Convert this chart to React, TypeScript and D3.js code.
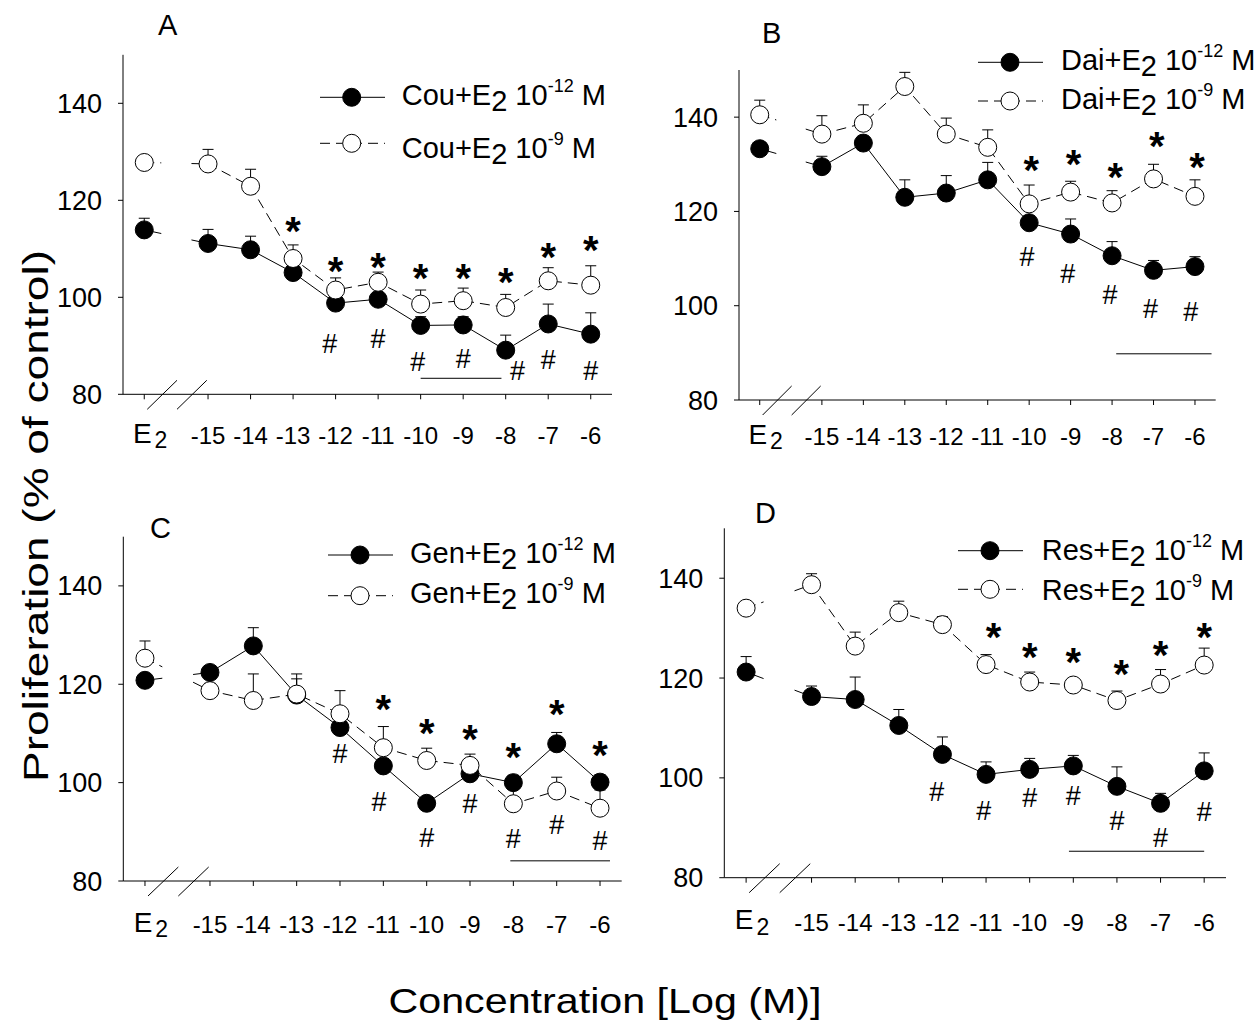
import React from "react";
import * as d3 from "d3";

// ---------- shared axis data ----------
const xLabels = ["E2", "-15", "-14", "-13", "-12", "-11", "-10", "-9", "-8", "-7", "-6"];
const xValues = [-16.5, -15, -14, -13, -12, -11, -10, -9, -8, -7, -6];
const yTicks = [80, 100, 120, 140];
const xDomain: [number, number] = [-17, -5.5];
const yDomain: [number, number] = [80, 150];
const gapStart = -16.1;
const gapEnd = -15.39;

// ---------- Panel A: Coumestrol ----------
const couLow = [113.9, 111.1, 109.8, 105.1, 98.8, 99.6, 94.2, 94.3, 89.1, 94.5, 92.4];
const couLowErr = [2.4, 2.9, 2.8, 1.5, 1.2, 1.4, 1.8, 1.7, 3.1, 4.1, 4.4];
const couHigh = [127.8, 127.5, 122.9, 108.0, 101.5, 103.1, 98.6, 99.3, 97.9, 103.4, 102.5];
const couHighErr = [0.4, 3.0, 3.5, 2.8, 2.5, 2.1, 2.9, 2.6, 2.7, 2.7, 4.0];
const couStarX = [-13, -12, -11, -10, -9, -8, -7, -6];
const couStarY = [115.3, 107.0, 107.8, 105.6, 105.6, 104.8, 109.9, 111.3];
const couHashX = [-12.14, -11, -10.07, -9, -7.72, -7, -6];
const couHashY = [90.5, 91.6, 86.8, 87.3, 84.9, 87.1, 84.9];
const couBar = [-10, -8.1, 83.3];

// ---------- Panel B: Daidzein ----------
const daiLow = [133.3, 129.5, 134.5, 123.0, 123.9, 126.7, 117.6, 115.2, 110.6, 107.5, 108.3];
const daiLowErr = [0.5, 2.2, 1.5, 3.7, 3.7, 3.7, 1.5, 3.2, 3.0, 2.1, 2.1];
const daiHigh = [140.5, 136.4, 138.7, 146.5, 136.4, 133.6, 121.6, 124.1, 121.8, 126.9, 123.2];
const daiHighErr = [3.1, 3.9, 3.9, 3.0, 3.4, 3.7, 4.0, 2.3, 2.6, 3.1, 3.5];
const daiStarX = [-9.95, -8.93, -7.92, -6.92, -5.95];
const daiStarY = [130.4, 131.7, 129.0, 135.6, 131.1];
const daiHashX = [-10.05, -9.07, -8.05, -7.07, -6.1];
const daiHashY = [110.4, 106.9, 102.3, 99.5, 98.7];
const daiBar = [-7.9, -5.6, 89.8];

// ---------- Panel C: Genistein ----------
const genLow = [120.8, 122.4, 127.8, 117.8, 111.2, 103.4, 95.8, 101.8, 100.0, 107.9, 100.1];
const genLowErr = [0.5, 1.0, 3.7, 4.3, 1.5, 1.5, 0.5, 1.0, 1.5, 2.3, 1.5];
const genHigh = [125.3, 118.7, 116.7, 118.0, 114.0, 107.1, 104.5, 103.5, 95.7, 98.3, 94.8];
const genHighErr = [3.5, 1.5, 5.4, 3.1, 4.7, 4.3, 2.5, 2.3, 3.0, 2.8, 3.7];
const genStarX = [-11, -10, -9, -8, -7, -6];
const genStarY = [116.5, 111.7, 110.4, 106.8, 115.5, 107.3];
const genHashX = [-12, -11.1, -10, -9, -8, -7, -6];
const genHashY = [106.0, 96.1, 88.8, 95.7, 88.7, 91.5, 88.2];
const genBar = [-8.07, -5.77, 84.1];

// ---------- Panel D: Resveratrol ----------
const resLow = [121.2, 116.3, 115.7, 110.5, 104.7, 100.7, 101.7, 102.4, 98.3, 94.9, 101.4];
const resLowErr = [3.1, 2.1, 4.5, 3.2, 3.5, 2.5, 2.2, 2.1, 3.9, 2.0, 3.6];
const resHigh = [134.0, 138.7, 126.4, 133.1, 130.7, 122.7, 119.2, 118.6, 115.5, 118.8, 122.6];
const resHighErr = [0.4, 2.2, 2.8, 2.3, 1.6, 2.0, 2.0, 0.4, 1.9, 2.9, 3.4];
const resStarX = [-10.83, -10, -9, -7.9, -7, -6];
const resStarY = [129.8, 125.8, 124.9, 122.5, 126.2, 129.8];
const resHashX = [-12.13, -11.05, -10, -9, -8, -7, -6];
const resHashY = [97.2, 93.5, 96.0, 96.5, 91.5, 88.0, 93.2];
const resBar = [-9.1, -6.0, 85.3];

const compoundNames = ["Cou", "Dai", "Gen", "Res"];
const panelLetters = ["A", "B", "C", "D"];
const lowSup = "-12";
const highSup = "-9";

// ---------- layout ----------
const FONT = "'Liberation Sans', Arial, Helvetica, sans-serif";
const layouts = [
  { x0: 123, x1: 612, yb: 394.3, yt: 54.8, tickBase: 50, letter: [158, 35], lg: { mx: 351.7, lx0: 320, lx1: 385, r1: 97.3, r2: 143.3, tx: 401.7, b1: 105, b2: 158 } },
  { x0: 739, x1: 1215.7, yb: 400, yt: 70, tickBase: 45, letter: [762, 43.3], lg: { mx: 1010, lx0: 978, lx1: 1043, r1: 62.3, r2: 101, tx: 1061, b1: 70, b2: 109 } },
  { x0: 123.3, x1: 621.7, yb: 881, yt: 536.7, tickBase: 52, letter: [150, 538], lg: { mx: 360, lx0: 328, lx1: 393, r1: 555, r2: 595.7, tx: 410, b1: 563.3, b2: 603.3 } },
  { x0: 724.3, x1: 1226, yb: 877.7, yt: 528.3, tickBase: 53, letter: [755, 523.3], lg: { mx: 990, lx0: 958, lx1: 1023, r1: 550.7, r2: 589.3, tx: 1041.7, b1: 560, b2: 600 } },
];

const panelData = [
  { low: couLow, lowErr: couLowErr, high: couHigh, highErr: couHighErr, sx: couStarX, sy: couStarY, hx: couHashX, hy: couHashY, bar: couBar },
  { low: daiLow, lowErr: daiLowErr, high: daiHigh, highErr: daiHighErr, sx: daiStarX, sy: daiStarY, hx: daiHashX, hy: daiHashY, bar: daiBar },
  { low: genLow, lowErr: genLowErr, high: genHigh, highErr: genHighErr, sx: genStarX, sy: genStarY, hx: genHashX, hy: genHashY, bar: genBar },
  { low: resLow, lowErr: resLowErr, high: resHigh, highErr: resHighErr, sx: resStarX, sy: resStarY, hx: resHashX, hy: resHashY, bar: resBar },
];

const R = 9;
const DASH = "10,6";

function Panel({ idx }: { idx: number }) {
  const cfg = layouts[idx];
  const d = panelData[idx];
  const x = d3.scaleLinear().domain(xDomain).range([cfg.x0, cfg.x1]);
  const y = d3.scaleLinear().domain(yDomain).range([cfg.yb, cfg.yt]);
  const line = d3
    .line<[number, number]>()
    .x((p) => x(p[0]))
    .y((p) => y(p[1]));

  const segs = (vals: number[]) => {
    const span = xValues[1] - xValues[0];
    const yA = vals[0] + ((gapStart - xValues[0]) / span) * (vals[1] - vals[0]);
    const yB = vals[0] + ((gapEnd - xValues[0]) / span) * (vals[1] - vals[0]);
    const s1: [number, number][] = [
      [xValues[0], vals[0]],
      [gapStart, yA],
    ];
    const s2: [number, number][] = [[gapEnd, yB], ...xValues.slice(1).map((xv, i) => [xv, vals[i + 1]] as [number, number])];
    return [line(s1) as string, line(s2) as string];
  };

  const series = (vals: number[], errs: number[], filled: boolean) => (
    <g>
      {segs(vals).map((p, i) => (
        <path key={i} d={p} fill="none" stroke="#000" strokeWidth={1} strokeDasharray={filled ? undefined : DASH} />
      ))}
      {vals.map((v, i) => {
        const cx = x(xValues[i]);
        const top = y(v + errs[i]);
        return (
          <g key={"e" + i}>
            <line x1={cx} x2={cx} y1={y(v)} y2={top} stroke="#000" strokeWidth={1} />
            <line x1={cx - 5.5} x2={cx + 5.5} y1={top} y2={top} stroke="#000" strokeWidth={1} />
          </g>
        );
      })}
      {vals.map((v, i) => (
        <circle key={"c" + i} cx={x(xValues[i])} cy={y(v)} r={R} fill={filled ? "#000" : "#fff"} stroke="#000" strokeWidth={1} />
      ))}
    </g>
  );

  const lg = cfg.lg;
  const legendText = (base: number, sup: string) => (
    <text x={lg.tx} y={base} fontSize={29} fontFamily={FONT} fill="#000">
      {compoundNames[idx]}+E
      <tspan y={base + 6}>2</tspan>
      <tspan y={base}> 10</tspan>
      <tspan y={base - 13} fontSize={18}>{sup}</tspan>
      <tspan y={base}> M</tspan>
    </text>
  );

  return (
    <g>
      {/* y axis */}
      <line x1={cfg.x0} x2={cfg.x0} y1={y(yDomain[0])} y2={y(yDomain[1])} stroke="#000" strokeWidth={1} />
      {yTicks.map((t) => (
        <g key={t}>
          <line x1={cfg.x0 - 5} x2={cfg.x0} y1={y(t)} y2={y(t)} stroke="#000" strokeWidth={1} />
          <text x={cfg.x0 - 21} y={y(t) + 9.5} textAnchor="end" fontSize={27} fontFamily={FONT} fill="#000">
            {t}
          </text>
        </g>
      ))}
      {/* x axis */}
      <line x1={x(xDomain[0])} x2={x(xDomain[1])} y1={cfg.yb} y2={cfg.yb} stroke="#000" strokeWidth={1} />
      {xValues.map((xv, i) => (
        <g key={xv}>
          <line x1={x(xv)} x2={x(xv)} y1={cfg.yb} y2={cfg.yb + 5} stroke="#000" strokeWidth={1} />
          {xLabels[i] === "E2" ? (
            <text x={x(xv) - 2} y={cfg.yb + cfg.tickBase - 1.5} textAnchor="middle" fontSize={28} fontFamily={FONT} fill="#000">
              E<tspan y={cfg.yb + cfg.tickBase + 4} fontSize={23}>2</tspan>
            </text>
          ) : (
            <text x={x(xv)} y={cfg.yb + cfg.tickBase} textAnchor="middle" fontSize={24} fontFamily={FONT} fill="#000">
              {xLabels[i]}
            </text>
          )}
        </g>
      ))}
      {/* axis break marks */}
      <line x1={x(-16.43)} y1={cfg.yb + 15} x2={x(-15.73)} y2={cfg.yb - 14} stroke="#000" strokeWidth={1} />
      <line x1={x(-15.73)} y1={cfg.yb + 15} x2={x(-15.03)} y2={cfg.yb - 14} stroke="#000" strokeWidth={1} />

      {/* panel letter */}
      <text x={cfg.letter[0]} y={cfg.letter[1]} fontSize={29} fontFamily={FONT} fill="#000">
        {panelLetters[idx]}
      </text>

      {/* series */}
      {series(d.low, d.lowErr, true)}
      {series(d.high, d.highErr, false)}

      {/* significance bar */}
      <line x1={x(d.bar[0])} x2={x(d.bar[1])} y1={y(d.bar[2])} y2={y(d.bar[2])} stroke="#000" strokeWidth={1} />

      {/* stars */}
      {d.sx.map((sx, i) => (
        <text key={"s" + i} x={x(sx)} y={y(d.sy[i]) + 22} textAnchor="middle" fontSize={40} fontWeight="bold" fontFamily={FONT} fill="#000">
          *
        </text>
      ))}
      {/* hashes */}
      {d.hx.map((hx, i) => (
        <text key={"h" + i} x={x(hx)} y={y(d.hy[i]) + 9.5} textAnchor="middle" fontSize={27} fontFamily={FONT} fill="#000">
          #
        </text>
      ))}

      {/* legend */}
      <line x1={lg.lx0} x2={lg.lx1} y1={lg.r1} y2={lg.r1} stroke="#000" strokeWidth={1} />
      <circle cx={lg.mx} cy={lg.r1} r={R} fill="#000" stroke="#000" />
      <line x1={lg.lx0} x2={lg.lx1} y1={lg.r2} y2={lg.r2} stroke="#000" strokeWidth={1} strokeDasharray={DASH} />
      <circle cx={lg.mx} cy={lg.r2} r={R} fill="#fff" stroke="#000" />
      {legendText(lg.b1, lowSup)}
      {legendText(lg.b2, highSup)}
    </g>
  );
}

export default function App() {
  return (
    <svg width={1259} height={1027} style={{ position: "absolute", left: 0, top: 0, background: "#fff" }}>
      <rect x={0} y={0} width={1259} height={1027} fill="#fff" />
      {[0, 1, 2, 3].map((i) => (
        <Panel key={i} idx={i} />
      ))}
      <text
        x={605}
        y={1013}
        textAnchor="middle"
        fontSize={35}
        fontFamily={FONT}
        textLength={433}
        lengthAdjust="spacingAndGlyphs"
        fill="#000"
      >
        Concentration [Log (M)]
      </text>
      <text
        transform="translate(48.3,516) rotate(-90)"
        textAnchor="middle"
        fontSize={35}
        fontFamily={FONT}
        textLength={532}
        lengthAdjust="spacingAndGlyphs"
        fill="#000"
      >
        Proliferation (% of control)
      </text>
    </svg>
  );
}
